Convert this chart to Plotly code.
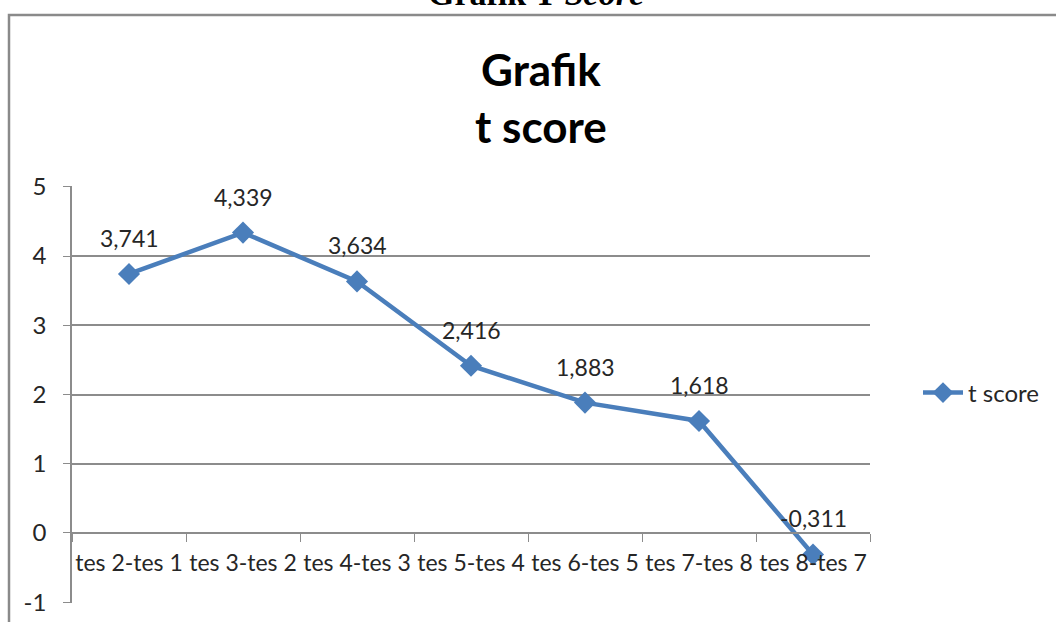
import plotly.graph_objects as go

categories = ["tes 2-tes 1", "tes 3-tes 2", "tes 4-tes 3", "tes 5-tes 4",
              "tes 6-tes 5", "tes 7-tes 8", "tes 8-tes 7"]
t_score = [3.741, 4.339, 3.634, 2.416, 1.883, 1.618, -0.311]
y_ticks = [-1, 0, 1, 2, 3, 4, 5]
y_tick_labels = ["-1", "0", "1", "2", "3", "4", "5"]

LINE = "#4A7EBB"
GRID = "#8C8C8C"
TXT = "#262626"
FONT = "Lato, 'Open Sans', sans-serif"

W, H = 1056, 622
L, R, T, B = 72, 186, 186, 19
pw, ph = W - L - R, H - T - B

def px_x(px):
    return (px - L) / pw

def px_y(py):
    return (H - B - py) / ph

fig = go.Figure()
fig.add_trace(go.Scatter(
    x=categories, y=t_score, mode="lines+markers", name="t score",
    line=dict(color=LINE, width=4.5),
    marker=dict(symbol="diamond", size=17, color=LINE),
))

for c, v in zip(categories, t_score):
    fig.add_annotation(x=c, y=v, text=f"{v:.3f}".replace(".", ","),
                       showarrow=False, yshift=36,
                       font=dict(family=FONT, size=23, color=TXT))

fig.add_annotation(xref="paper", yref="paper", x=px_x(541), y=px_y(97),
                   xanchor="center", yanchor="middle",
                   text="<b>Grafik<br>t score</b>", showarrow=False,
                   font=dict(family=FONT, size=44, color="#000000"),
                   align="center")

fig.add_annotation(xref="paper", yref="paper", x=px_x(536), y=px_y(14),
                   xanchor="center", yanchor="bottom",
                   text="<b>Grafik T <i>Score</i></b>", showarrow=False,
                   font=dict(family="Liberation Serif, Times New Roman, serif", size=34, color="#000000"))

fig.add_shape(type="rect", xref="paper", yref="paper",
              x0=px_x(9), x1=px_x(1100), y0=px_y(660), y1=px_y(15),
              line=dict(color="#8A8A8A", width=2.5), fillcolor="rgba(0,0,0,0)")

ymin, ymax = y_ticks[0], y_ticks[-1]
pad = 0.012
fig.update_layout(
    width=W, height=H,
    margin=dict(l=L, r=R, t=T, b=B, autoexpand=False),
    paper_bgcolor="white", plot_bgcolor="white",
    showlegend=True,
    legend=dict(x=px_x(918), y=px_y(393), xanchor="left", yanchor="middle",
                font=dict(family=FONT, size=24, color=TXT),
                itemwidth=40, bgcolor="rgba(0,0,0,0)"),
    xaxis=dict(type="category", range=[-0.5, len(categories) - 0.5],
               anchor="free", position=(0 - (ymin - pad)) / (ymax - ymin + 2 * pad),
               automargin=False,
               showline=True, linecolor=GRID, linewidth=1.5,
               ticks="outside", tickson="boundaries", ticklen=8, tickcolor=GRID,
               tickangle=0, showgrid=False, ticklabelstandoff=10,
               tickfont=dict(family=FONT, size=23, color=TXT)),
    yaxis=dict(range=[ymin - pad, ymax + pad], tickvals=y_ticks,
               ticktext=y_tick_labels,
               automargin=False,
               showgrid=True, gridcolor=GRID, gridwidth=1.5,
               zeroline=False, showline=True, linecolor=GRID, linewidth=1.5,
               ticks="outside", ticklen=7, tickcolor=GRID,
               ticklabelstandoff=12,
               tickfont=dict(family=FONT, size=24, color=TXT)),
)

fig.write_html("out.html", config={"displayModeBar": False},
               post_script="document.body.style.margin='0';document.body.style.overflow='hidden';")
